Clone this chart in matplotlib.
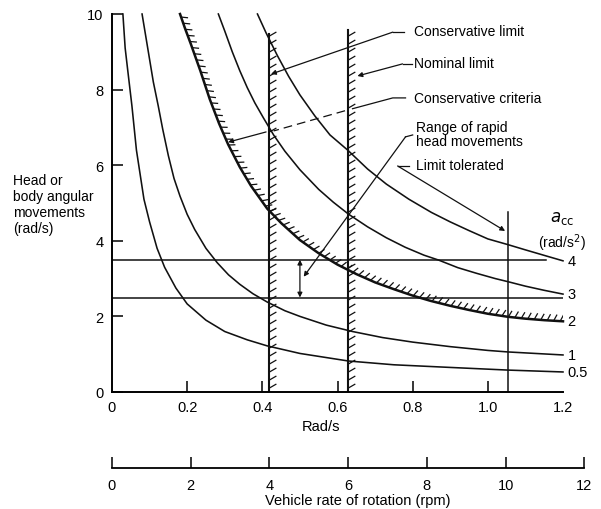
import matplotlib
matplotlib.use("Agg")
import matplotlib.pyplot as plt
import numpy as np
from matplotlib.collections import LineCollection

plt.rcParams['font.family'] = ['Liberation Sans', 'DejaVu Sans']
plt.rcParams['font.size'] = 10

# ---- a_cc curves (x: vehicle rad/s, y: head rad/s) ----
c05_x = [0.029, 0.035, 0.042, 0.053, 0.065, 0.085, 0.1, 0.12, 0.14, 0.17, 0.2, 0.25, 0.3, 0.36,
         0.413, 0.5, 0.629, 0.75, 0.9, 1.053, 1.2]
c05_y = [10.0, 9.1, 8.5, 7.57, 6.4, 5.1, 4.5, 3.8, 3.3, 2.75, 2.33, 1.9, 1.6, 1.38,
         1.22, 1.02, 0.82, 0.72, 0.65, 0.58, 0.53]
c1_x = [0.08, 0.09, 0.1, 0.11, 0.123, 0.135, 0.15, 0.165, 0.181, 0.2, 0.22, 0.25, 0.28, 0.31,
        0.34, 0.375, 0.413, 0.46, 0.5, 0.57, 0.64, 0.72, 0.8, 0.9, 1.0, 1.053, 1.2]
c1_y = [10.0, 9.4, 8.8, 8.2, 7.57, 6.95, 6.25, 5.65, 5.18, 4.7, 4.3, 3.8, 3.42, 3.1,
        2.85, 2.6, 2.38, 2.15, 2.0, 1.77, 1.6, 1.44, 1.32, 1.2, 1.1, 1.06, 0.98]
c2_x = [0.181, 0.195, 0.21, 0.235, 0.26, 0.285, 0.309, 0.34, 0.37, 0.413, 0.45, 0.5, 0.55, 0.6,
        0.65, 0.7, 0.75, 0.8, 0.848, 0.9, 0.95, 1.0, 1.053, 1.1, 1.15, 1.2]
c2_y = [10.0, 9.6, 9.2, 8.5, 7.75, 7.1, 6.55, 5.95, 5.45, 4.85, 4.47, 4.02, 3.67, 3.37,
        3.12, 2.9, 2.72, 2.55, 2.41, 2.28, 2.17, 2.07, 1.99, 1.94, 1.9, 1.87]
c3_x = [0.283, 0.3, 0.32, 0.34, 0.36, 0.38, 0.403, 0.43, 0.46, 0.5, 0.55, 0.589, 0.63, 0.68,
        0.73, 0.78, 0.83, 0.869, 0.92, 0.97, 1.02, 1.053, 1.1, 1.15, 1.2]
c3_y = [10.0, 9.55, 9.0, 8.5, 8.05, 7.65, 7.25, 6.8, 6.37, 5.88, 5.36, 5.02, 4.7, 4.37,
        4.08, 3.83, 3.62, 3.49, 3.29, 3.14, 3.0, 2.92, 2.8, 2.69, 2.59]
c4_x = [0.387, 0.41, 0.44, 0.47, 0.5, 0.54, 0.58, 0.627, 0.68, 0.73, 0.79, 0.85, 0.9, 0.95,
        1.0, 1.053, 1.1, 1.155, 1.2]
c4_y = [10.0, 9.5, 8.9, 8.35, 7.86, 7.3, 6.8, 6.4, 5.9, 5.5, 5.1, 4.75, 4.5, 4.27,
        4.05, 3.9, 3.76, 3.6, 3.47]
acc_labels = ["0.5", "1", "2", "3", "4"]

# limits / ranges
head_hi, head_lo = 3.5, 2.5          # range of rapid head movements
head_hi_end, head_lo_end = 1.155, 1.2
lim_cons, lim_cons_top = 0.419, 9.47  # conservative limit (4 rpm)
lim_nom, lim_nom_top = 0.629, 9.58    # nominal limit (6 rpm)
lim_tol, lim_tol_top = 1.053, 4.76    # limit tolerated (10 rpm)
range_arrow_x = 0.5

xticks = [0, 0.2, 0.4, 0.6, 0.8, 1.0, 1.2]
xticklabels = ["0", "0.2", "0.4", "0.6", "0.8", "1.0", "1.2"]
yticks = [0, 2, 4, 6, 8, 10]
rpm_ticks = [0, 2, 4, 6, 8, 10, 12]

K = "#111111"
fig = plt.figure(figsize=(6.01, 5.10), dpi=100)
ax = fig.add_axes([112/601, 1-393/510, 451/601, 378/510])
ax.set_xlim(0, 1.2); ax.set_ylim(0, 10)
for s in ["top", "right"]: ax.spines[s].set_visible(False)
for s in ["left", "bottom"]: ax.spines[s].set_linewidth(1.4)
ax.set_xticks(xticks); ax.set_xticklabels(xticklabels)
ax.set_yticks(yticks)
ax.tick_params(direction="in", length=8, width=1.1, labelsize=10.5)
ax.tick_params(axis="x", pad=6); ax.tick_params(axis="y", pad=6)
xt = ax.xaxis.get_major_ticks()
xt[0].tick1line.set_visible(False); xt[-1].tick1line.set_visible(False)

curves = [(c05_x, c05_y), (c1_x, c1_y), (c2_x, c2_y), (c3_x, c3_y), (c4_x, c4_y)]
for i, (cx, cy) in enumerate(curves):
    ax.plot(cx, cy, color=K, lw=1.8 if i == 2 else 1.15, clip_on=False, solid_joinstyle="round")
    ax.text(cx[-1] + 0.012, cy[-1], acc_labels[i], ha="left", va="center", fontsize=10.5, clip_on=False)

ax.plot([0, head_hi_end], [head_hi, head_hi], color=K, lw=1.1)
ax.plot([0, head_lo_end], [head_lo, head_lo], color=K, lw=1.1)
ax.plot([lim_cons, lim_cons], [0, lim_cons_top], color=K, lw=1.5)
ax.plot([lim_nom, lim_nom], [0, lim_nom_top], color=K, lw=1.5)
ax.plot([lim_tol, lim_tol], [0, lim_tol_top], color=K, lw=1.1)
ax.annotate("", xy=(range_arrow_x, head_hi), xytext=(range_arrow_x, head_lo),
            arrowprops=dict(arrowstyle="<|-|>", color=K, lw=0.9, mutation_scale=7, shrinkA=0, shrinkB=0))


def hatch(xs, ys, step, length, rel=None, angle=None, lw=0.9):
    pts = ax.transData.transform(np.column_stack([xs, ys]))
    seg = np.diff(pts, axis=0)
    d = np.concatenate([[0], np.cumsum(np.hypot(seg[:, 0], seg[:, 1]))])
    s = np.arange(step / 2, d[-1], step)
    px = np.interp(s, d, pts[:, 0]); py = np.interp(s, d, pts[:, 1])
    idx = np.clip(np.searchsorted(d, s) - 1, 0, len(seg) - 1)
    if rel is not None:
        a = np.radians(np.degrees(np.arctan2(seg[idx, 1], seg[idx, 0])) + rel)
    else:
        a = np.full_like(s, np.radians(angle))
    p0 = np.column_stack([px, py])
    p1 = p0 + length * np.column_stack([np.cos(a), np.sin(a)])
    inv = ax.transData.inverted()
    segs = [[inv.transform(u), inv.transform(v)] for u, v in zip(p0, p1)]
    ax.add_collection(LineCollection(segs, colors=K, linewidths=lw))


hatch(c2_x, c2_y, 6.5, 7, rel=65)
hatch([lim_cons, lim_cons], [0, lim_cons_top], 8, 8, angle=30)
hatch([lim_nom, lim_nom], [0, lim_nom_top], 8, 8, angle=30)

# ---- leaders and labels ----
arw = dict(arrowstyle="-|>", color=K, lw=0.9, mutation_scale=7, shrinkA=0, shrinkB=0)
tx = 0.803
ax.text(tx, 9.55, "Conservative limit", ha="left", va="center")
ax.plot([0.778, 0.747], [9.52, 9.52], color=K, lw=0.9)
ax.annotate("", xy=(0.423, 8.41), xytext=(0.747, 9.52), arrowprops=arw)

ax.text(tx, 8.70, "Nominal limit", ha="left", va="center")
ax.plot([0.797, 0.773], [8.68, 8.68], color=K, lw=0.9)
ax.annotate("", xy=(0.653, 8.36), xytext=(0.773, 8.68), arrowprops=arw)

ax.text(tx, 7.78, "Conservative criteria", ha="left", va="center")
cc_c, cc_t = (0.747, 7.78), (0.309, 6.61)
p1y, p2y = np.interp([0.64, 0.42], [cc_t[0], cc_c[0]], [cc_t[1], cc_c[1]])
ax.plot([0.781, cc_c[0], 0.64], [cc_c[1], cc_c[1], p1y], color=K, lw=0.9)
ax.plot([0.62, 0.43], [np.interp(0.62, [cc_t[0], cc_c[0]], [cc_t[1], cc_c[1]]), p2y],
        color=K, lw=0.9, dashes=(7, 4))
ax.annotate("", xy=cc_t, xytext=(0.41, np.interp(0.41, [cc_t[0], cc_c[0]], [cc_t[1], cc_c[1]])), arrowprops=arw)

ax.text(tx + 0.005, 6.82, "Range of rapid\nhead movements", ha="left", va="center", linespacing=1.05)
ax.plot([0.8, 0.781], [6.8, 6.75], color=K, lw=0.9)
ax.annotate("", xy=(0.51, 3.05), xytext=(0.781, 6.75), arrowprops=arw)

ax.text(tx + 0.005, 6.0, "Limit tolerated", ha="left", va="center")
ax.plot([0.79, 0.76], [5.98, 5.98], color=K, lw=0.9)
ax.annotate("", xy=(1.046, 4.26), xytext=(0.76, 5.98), arrowprops=arw)

ax.text(1.197, 4.62, r"$a_{\rm cc}$", ha="center", va="center", fontsize=12, clip_on=False)
ax.text(1.197, 3.97, "(rad/s$^2$)", ha="center", va="center", fontsize=10, clip_on=False)

fig.text(13/601, 1-205/510, "Head or\nbody angular\nmovements\n(rad/s)",
         ha="left", va="center", linespacing=1.2, fontsize=10)
fig.text(321/601, 1-427/510, "Rad/s", ha="center", va="center", fontsize=10.5)

# ---- rpm axis ----
rpm_w = 12 * 2 * np.pi / 60 * (451 / 1.2)
ax2 = fig.add_axes([112/601, 1-469/510, rpm_w/601, 0.001])
ax2.set_xlim(0, 12)
ax2.patch.set_visible(False)
for s in ["top", "right", "left"]: ax2.spines[s].set_visible(False)
ax2.spines["bottom"].set_linewidth(1.3)
ax2.set_yticks([])
ax2.set_xticks(rpm_ticks)
ax2.tick_params(direction="in", length=8, width=1.1, labelsize=10.5, pad=7)
fig.text(358/601, 1-501/510, "Vehicle rate of rotation (rpm)", ha="center", va="center", fontsize=10.5)

fig.savefig("out.png", dpi=100)
